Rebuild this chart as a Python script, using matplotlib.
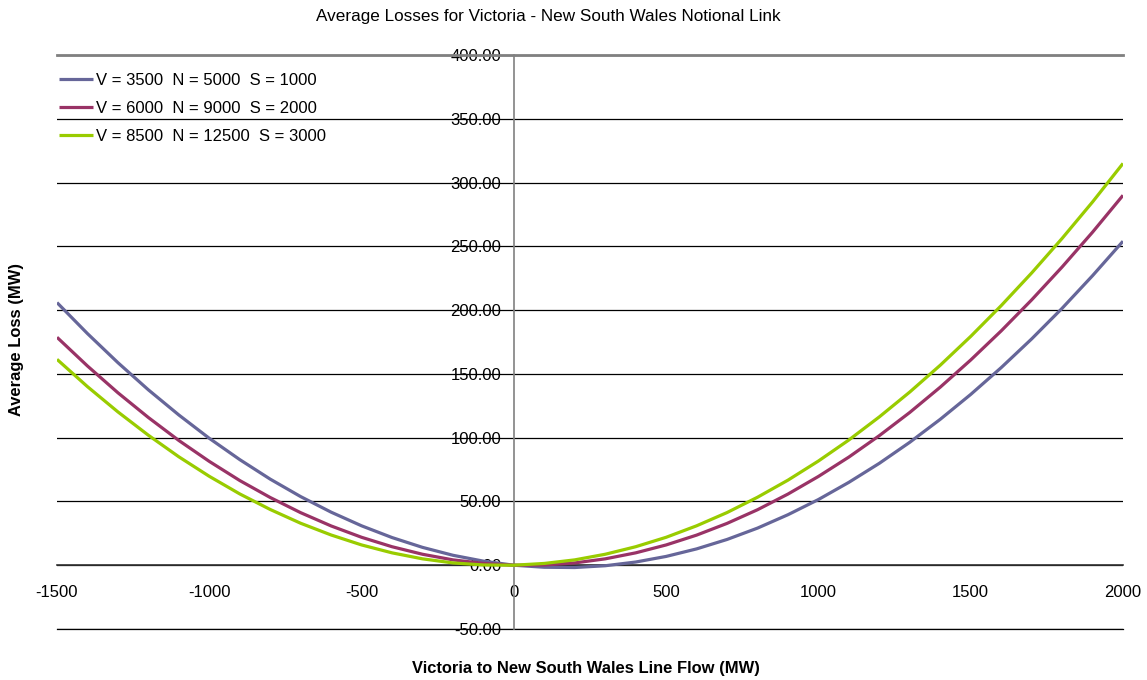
import matplotlib
matplotlib.use("Agg")
import matplotlib.pyplot as plt

plt.rcParams["font.family"] = ["Liberation Sans", "DejaVu Sans"]

# line flow (MW), every 100 MW from -1500 to 2000
flow_mw = list(range(-1500, 2001, 100))
loss_v3500 = [205.9, 181.6, 158.8, 137.5, 117.8, 99.5, 82.8, 67.5, 53.8, 41.6,
              30.9, 21.7, 14.0, 7.8, 3.2, 0.0, -1.6, -1.8, -0.4, 2.5,
              6.9, 12.8, 20.2, 29.1, 39.6, 51.5, 65.0, 79.9, 96.4, 114.4,
              133.9, 154.9, 177.4, 201.4, 227.0, 254.0]
loss_v6000 = [178.7, 156.2, 135.2, 115.8, 97.8, 81.4, 66.4, 53.1, 41.2, 30.8,
              21.9, 14.5, 8.6, 4.2, 1.4, 0.0, 0.2, 1.8, 5.0, 9.7,
              15.9, 23.6, 32.8, 43.5, 55.8, 69.6, 84.8, 101.6, 119.8, 139.6,
              160.9, 183.7, 208.0, 233.8, 261.1, 290.0]
loss_v8500 = [161.4, 140.0, 120.2, 101.9, 85.0, 69.7, 55.9, 43.7, 32.9, 23.7,
              15.9, 9.7, 5.0, 1.8, 0.2, 0.0, 1.4, 4.2, 8.6, 14.5,
              21.9, 30.9, 41.3, 53.3, 66.7, 81.7, 98.2, 116.3, 135.8, 156.8,
              179.4, 203.5, 229.1, 256.2, 284.8, 315.0]

series_labels = [
    "V = 3500  N = 5000  S = 1000",
    "V = 6000  N = 9000  S = 2000",
    "V = 8500  N = 12500  S = 3000",
]
series_colors = ["#666699", "#993366", "#99CC00"]

x_ticks = [-1500, -1000, -500, 0, 500, 1000, 1500, 2000]
y_ticks = [-50, 0, 50, 100, 150, 200, 250, 300, 350, 400]

W, H = 1147, 680
fig = plt.figure(figsize=(W / 100, H / 100), dpi=100)
ax = fig.add_axes([57 / W, 1 - 629 / H, 1066 / W, 574 / H])

for ys, lab, col in zip([loss_v3500, loss_v6000, loss_v8500], series_labels, series_colors):
    ax.plot(flow_mw, ys, color=col, lw=2.3, label=lab,
            solid_capstyle="butt", solid_joinstyle="round", zorder=3)

ax.set_xlim(-1500, 2000)
ax.set_ylim(-50, 400)
ax.set_xticks(x_ticks)
ax.set_yticks(y_ticks)
ax.set_xticklabels([str(v) for v in x_ticks])
ax.set_yticklabels([f"{v:.2f}" for v in y_ticks])
ax.yaxis.grid(True, color="black", lw=0.9)
ax.set_axisbelow(True)
# bottom gridline sits on the axes edge, draw it unclipped
ax.axhline(y_ticks[0], color="black", lw=0.9, clip_on=False, zorder=1)

ax.spines["right"].set_visible(False)
ax.spines["left"].set_position(("data", 0))
ax.spines["left"].set_color("#808080")
ax.spines["left"].set_linewidth(1.2)
ax.spines["left"].set_zorder(2)
ax.spines["bottom"].set_position(("data", 0))
ax.spines["bottom"].set_color("#333333")
ax.spines["bottom"].set_linewidth(1.2)
ax.spines["top"].set_color("#808080")
ax.spines["top"].set_linewidth(2.0)
ax.tick_params(axis="both", length=0, labelsize=12)
ax.tick_params(axis="y", pad=9)
ax.tick_params(axis="x", pad=14)

leg = ax.legend(loc="upper left", bbox_to_anchor=(59 / W, 1 - 73 / H),
                bbox_transform=fig.transFigure, frameon=False, fontsize=12,
                handlelength=2.05, handletextpad=0.18, labelspacing=0.77,
                borderpad=0, borderaxespad=0)

fig.text(548 / W, 1 - 17 / H, "Average Losses for Victoria - New South Wales Notional Link",
         ha="center", va="center", fontsize=12.3)
fig.text(586 / W, 1 - 669 / H, "Victoria to New South Wales Line Flow (MW)",
         ha="center", va="center", fontsize=11.9, fontweight="bold")
fig.text(17 / W, 1 - 340 / H, "Average Loss (MW)", rotation=90,
         ha="center", va="center", fontsize=11.9, fontweight="bold")

fig.savefig("out.png", dpi=100)
